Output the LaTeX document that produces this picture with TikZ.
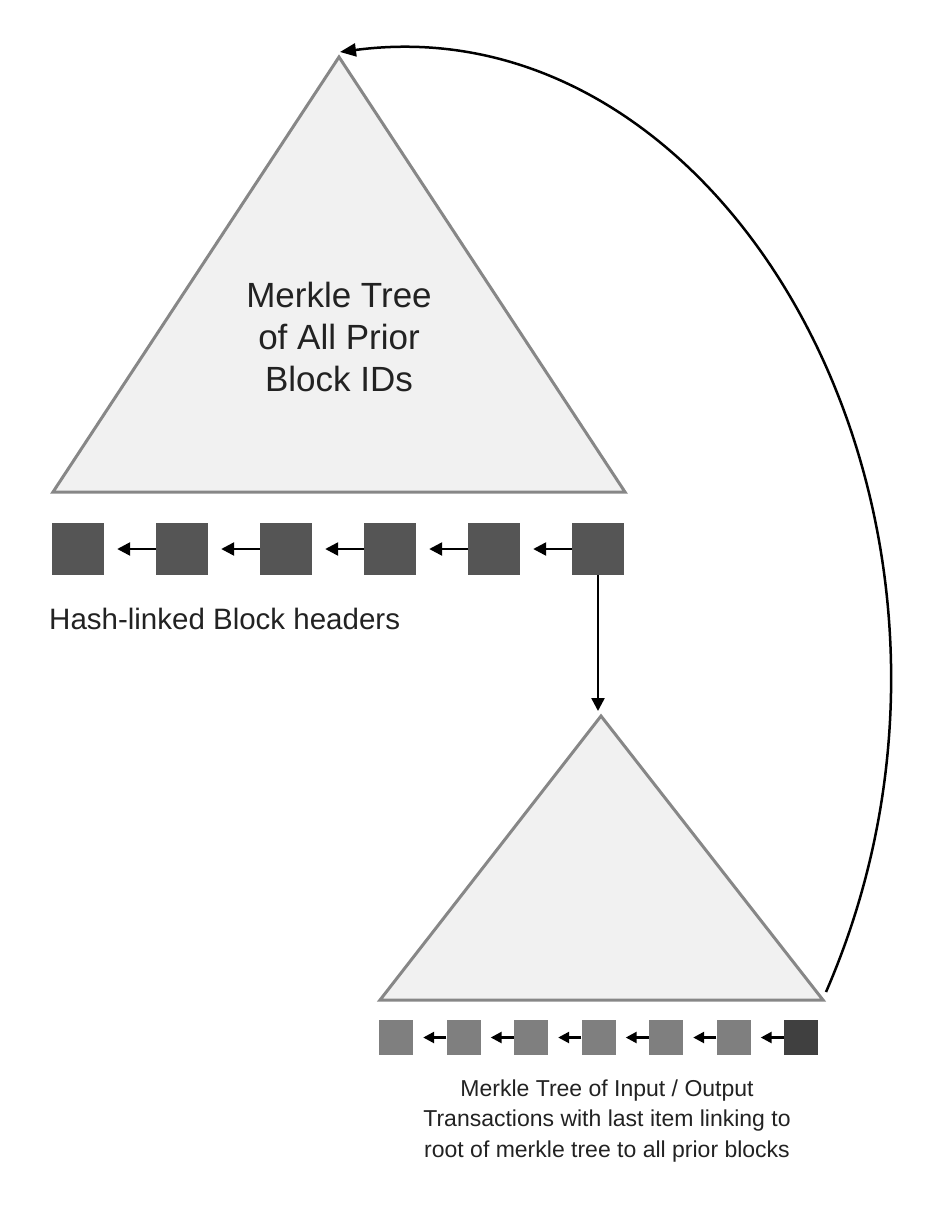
\documentclass[tikz,border=0pt]{standalone}
\usepackage{fontspec}
\setmainfont{Liberation Sans}
\usetikzlibrary{arrows.meta}
\definecolor{trifill}{HTML}{F1F1F1}
\definecolor{triline}{HTML}{878787}
\definecolor{blk}{HTML}{555555}
\definecolor{tx}{HTML}{7F7F7F}
\definecolor{txlast}{HTML}{404040}
\definecolor{txt}{HTML}{222222}
\begin{document}
\begin{tikzpicture}[x=1pt,y=-1pt,
  tri/.style={fill=trifill,draw=triline,line width=3pt,line join=miter},
  hblock/.style={fill=blk,minimum width=52pt,minimum height=52pt,inner sep=0pt,draw=none},
  tblock/.style={fill=tx,minimum width=34pt,minimum height=35pt,inner sep=0pt,draw=none},
  link/.style={line width=2.5pt,-{Triangle[length=13pt,width=13pt]}},
  slink/.style={line width=2.5pt,-{Triangle[length=11pt,width=11pt]}},
  curvearrow/.style={line width=2.5pt,-{Triangle[length=16pt,width=13pt]}}]
\useasboundingbox (0,0) rectangle (944,1230);
% top triangle
\coordinate (A1) at (339,57);
\coordinate (L1) at (53,492);
\coordinate (R1) at (625,492);
\draw[tri] (A1) -- (R1) -- (L1) -- cycle;
\node[font=\fontsize{35}{42}\selectfont,align=center,text=txt] (t1) at (339,337) {Merkle Tree\\of All Prior\\Block IDs};
% block headers
\foreach \i in {1,...,6} \node[hblock] (h\i) at ({78+104*(\i-1)},549) {};
\foreach \i [evaluate=\i as \j using int(\i-1)] in {2,...,6}
  \draw[link] (h\i.west) -- ([xshift=13pt]h\j.east);
\node[font=\fontsize{29.5}{35}\selectfont,anchor=base west,text=txt,inner sep=0pt] (hl) at (49,629) {Hash-linked Block headers};
% bottom triangle
\coordinate (A2) at (601,716);
\coordinate (L2) at (380,1000);
\coordinate (R2) at (823,1000);
\draw[tri] (A2) -- (R2) -- (L2) -- cycle;
\coordinate (vt) at (598,711);
\draw[link] (h6.south) -- (vt);
% transactions
\foreach \i in {1,...,6} \node[tblock] (s\i) at ({396+67.5*(\i-1)},1037.5) {};
\node[tblock,fill=txlast] (s7) at ({396+67.5*6},1037.5) {};
\foreach \i [evaluate=\i as \j using int(\i-1)] in {2,...,7}
  \draw[slink] (s\i.west) -- ([xshift=10pt]s\j.east);
\node[font=\fontsize{23}{30.5}\selectfont,align=center,text=txt] (t2) at (607,1121) {Merkle Tree of Input / Output\\Transactions with last item linking to\\root of merkle tree to all prior blocks};
% curved link back to top
\coordinate (c0) at (826,992);
\coordinate (ce) at (340,52);
\draw[curvearrow] (c0) .. controls (1026,532) and (736,0) .. (ce);
\end{tikzpicture}
\end{document}
